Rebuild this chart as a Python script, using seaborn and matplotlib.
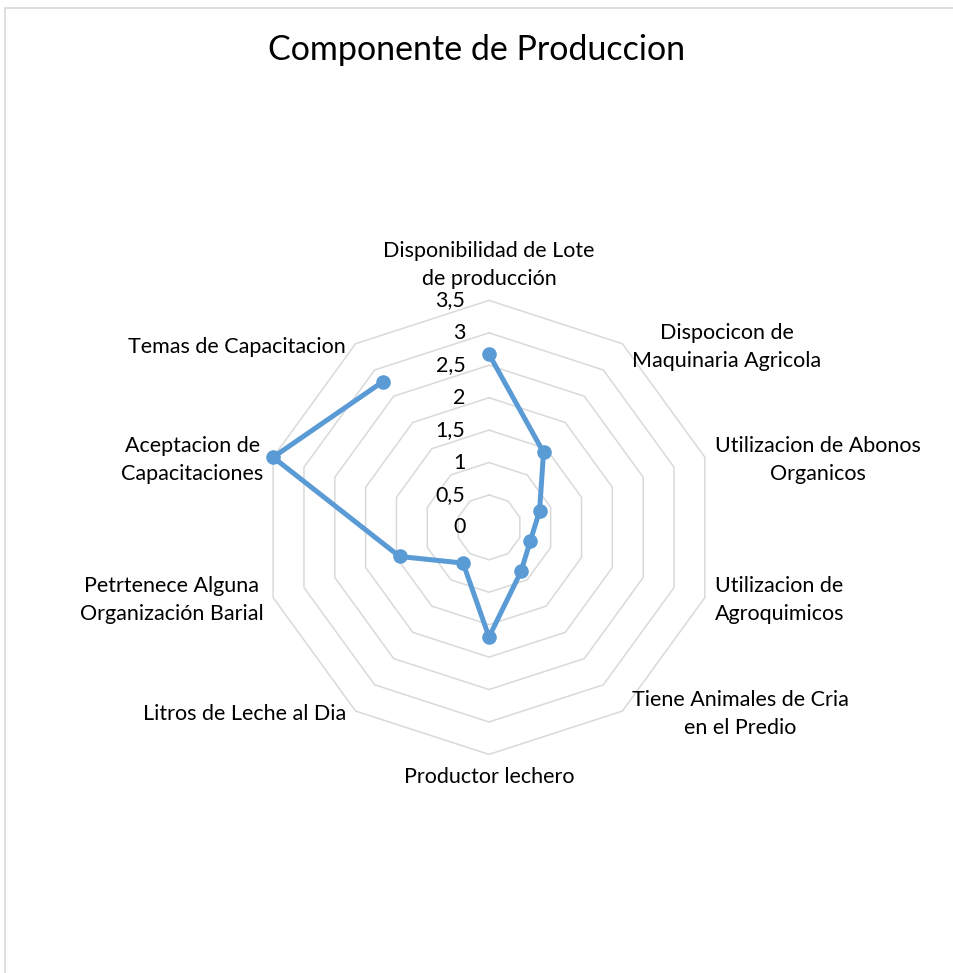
import numpy as np
import pandas as pd
import seaborn as sns
import matplotlib.pyplot as plt
from matplotlib.lines import Line2D

categories = [
    "Disponibilidad de Lote\nde producción",
    "Dispocicon de\nMaquinaria Agricola",
    "Utilizacion de Abonos\nOrganicos",
    "Utilizacion de\nAgroquimicos",
    "Tiene Animales de Cria\nen el Predio",
    "Productor lechero",
    "Litros de Leche al Dia",
    "Petrtenece Alguna\nOrganización Barial",
    "Aceptacion de\nCapacitaciones",
    "Temas de Capacitacion",
]
values = [2.67, 1.43, 0.82, 0.67, 0.84, 1.69, 0.68, 1.45, 3.5, 2.78]
levels = [0.5, 1.0, 1.5, 2.0, 2.5, 3.0, 3.5]
level_labels = ["0", "0,5", "1", "1,5", "2", "2,5", "3", "3,5"]

sns.set_style("white")
plt.rcParams["font.family"] = ["Lato", "DejaVu Sans"]

line_color = "#5B9BD5"
grid_color = "#D9D9D9"

n = len(categories)
angles = np.linspace(0, 2 * np.pi, n, endpoint=False)

df = pd.DataFrame({"angle": np.append(angles, angles[0]),
                   "value": values + values[:1]})

fig = plt.figure(figsize=(9.54, 9.73), dpi=100)
W, H = 954, 973
cx, cy, R = 489, 527.4, 227
ax = fig.add_axes([(cx - R) / W, 1 - (cy + R) / H, 2 * R / W, 2 * R / H],
                  projection="polar")
ax.set_theta_zero_location("N")
ax.set_theta_direction(-1)
ax.set_ylim(0, 3.5)
ax.grid(False)
ax.spines["polar"].set_visible(False)
ax.set_xticks([])
ax.set_yticks([])
ax.patch.set_alpha(0)

# polygon grid
ring = np.append(angles, angles[0])
for lv in levels:
    ax.plot(ring, [lv] * (n + 1), color=grid_color, lw=1.1, zorder=1,
            clip_on=False)

sns.lineplot(data=df, x="angle", y="value", ax=ax, sort=False,
             color=line_color, lw=3.6, marker="o", markersize=10.5,
             markeredgewidth=0, zorder=3, clip_on=False)
ax.set_xlabel("")
ax.set_ylabel("")

# radial tick labels
for i, lab in enumerate(level_labels):
    ax.annotate(lab, xy=(0, i * 0.5), xytext=(-17, 0),
                textcoords="offset points", ha="right", va="center",
                fontsize=15.5, color="black")

# category labels
for ang, lab in zip(angles, categories):
    s, c = np.sin(ang), np.cos(ang)
    if abs(s) < 0.01:
        ha = "center"
        va = "bottom" if c > 0 else "top"
        off = (0, 8 if c > 0 else -9)
    else:
        ha = "left" if s > 0 else "right"
        va = "center"
        off = (7 * np.sign(s), -2)
    ax.annotate(lab, xy=(ang, 3.5), xytext=off, textcoords="offset points",
                ha=ha, va=va, multialignment="center", fontsize=15.5,
                linespacing=1.5, color="black", annotation_clip=False)

fig.text(0.5, 1 - 50 / H, "Componente de Produccion", ha="center",
         va="center", fontsize=24.5, color="black")

# chart area border
fig.add_artist(Line2D([5 / W, 5 / W], [0, 1 - 8 / H], transform=fig.transFigure,
                      color=grid_color, lw=1.2))
fig.add_artist(Line2D([5 / W, 1], [1 - 8 / H, 1 - 8 / H], transform=fig.transFigure,
                      color=grid_color, lw=1.2))

fig.savefig("out.png", dpi=100)
